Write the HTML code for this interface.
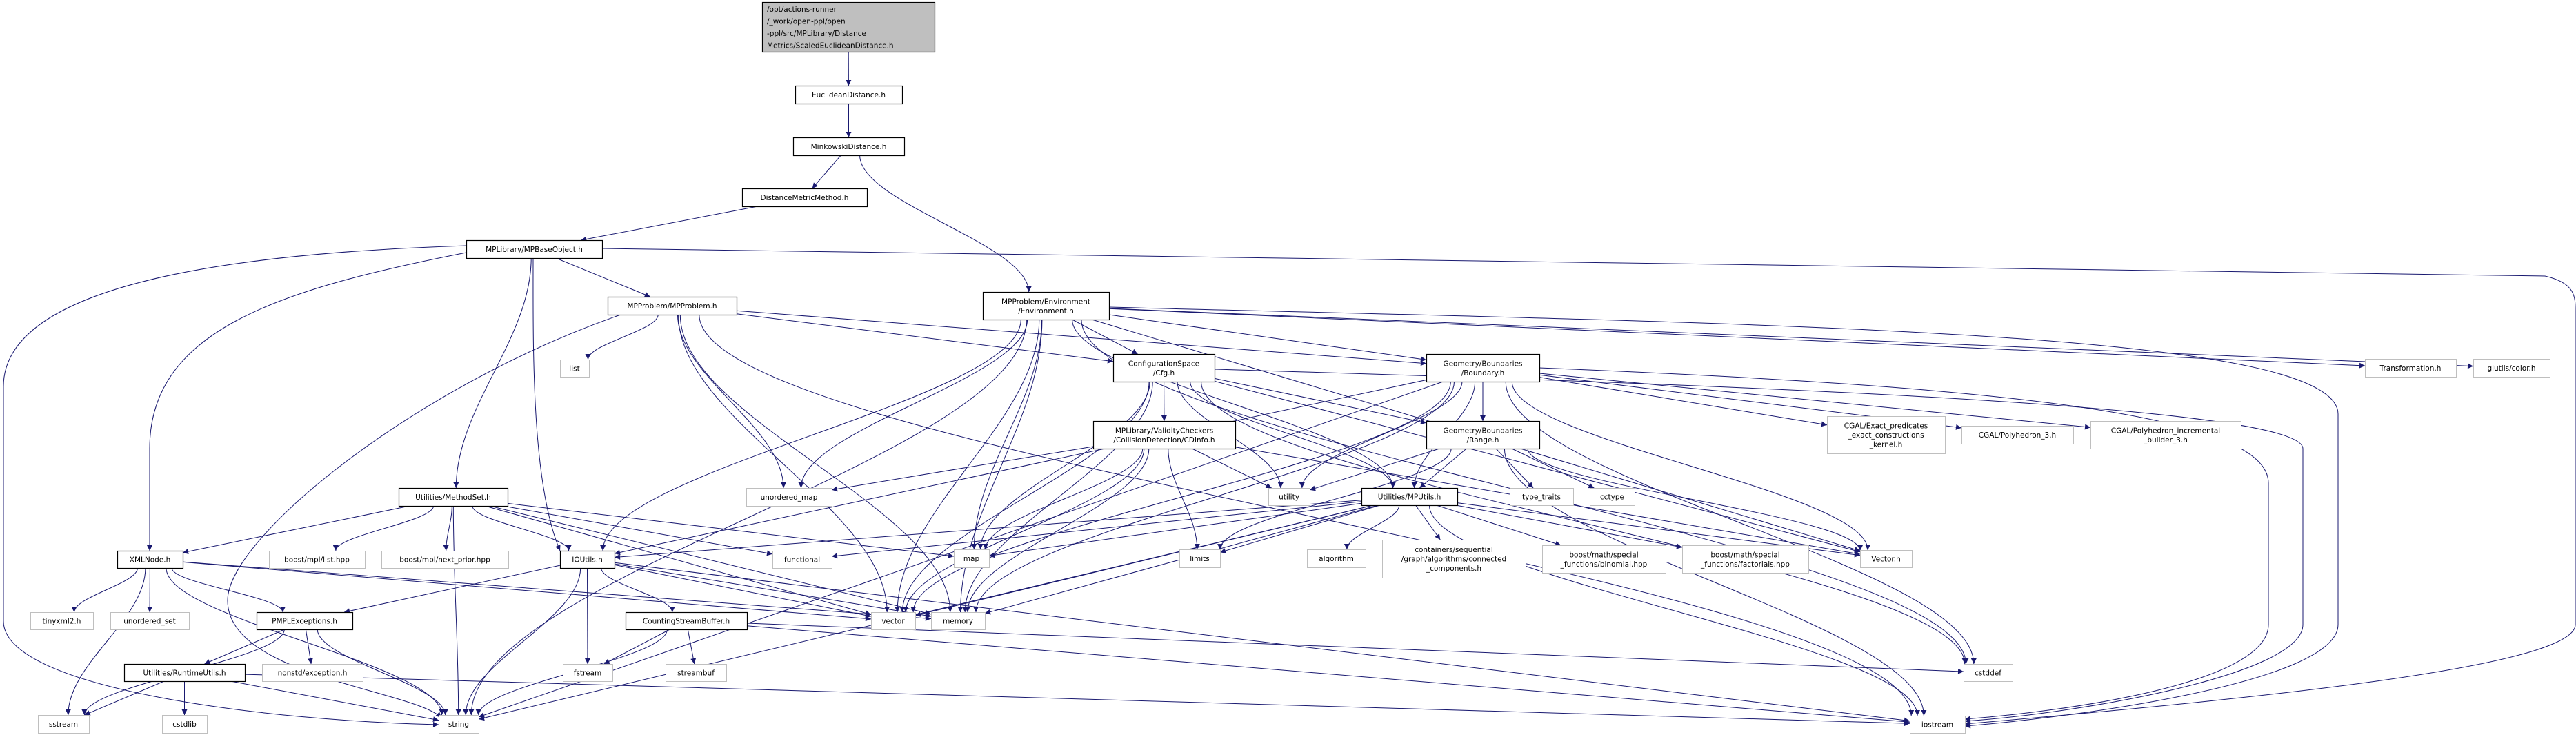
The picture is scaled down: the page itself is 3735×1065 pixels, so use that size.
<!DOCTYPE html>
<html><head><meta charset="utf-8"><style>
html,body{margin:0;padding:0;background:#fff;}
svg{display:block;}
text{font-family:"DejaVu Sans","Liberation Sans",sans-serif;font-size:10.5px;fill:#000;}
</style></head><body>
<svg id="g" width="3735" height="1065" viewBox="0 0 3735 1065" xmlns="http://www.w3.org/2000/svg">
<defs><marker id="ah" viewBox="0 0 10 10" refX="10" refY="5" markerWidth="10" markerHeight="8" markerUnits="userSpaceOnUse" orient="auto"><path d="M0,0 L10,5 L0,10 z" fill="#191970"/></marker></defs>
<g id="edges" fill="none" stroke="#191970" stroke-width="1"></g>
<g id="nodes"></g>
</svg>
<script>
var N={
top:[1105,3,1355,75,["/opt/actions-runner","/_work/open-ppl/open","-ppl/src/MPLibrary/Distance","Metrics/ScaledEuclideanDistance.h"],2],
eu:[1153,124,1308,150,["EuclideanDistance.h"],1],
mk:[1150,199,1311,225,["MinkowskiDistance.h"],1],
dmm:[1076,273,1257,299,["DistanceMetricMethod.h"],1],
mpb:[676,348,873,374,["MPLibrary/MPBaseObject.h"],1],
mpp:[881,430,1068,456,["MPProblem/MPProblem.h"],1],
env:[1425,423,1608,463,["MPProblem/Environment","/Environment.h"],1],
cfg:[1614,513,1761,553,["ConfigurationSpace","/Cfg.h"],1],
bnd:[2068,513,2232,553,["Geometry/Boundaries","/Boundary.h"],1],
cdi:[1585,610,1791,650,["MPLibrary/ValidityCheckers","/CollisionDetection/CDInfo.h"],1],
rng:[2068,610,2232,650,["Geometry/Boundaries","/Range.h"],1],
utility:[1839,707,1899,732,["utility"],0],
mpu:[1974,707,2113,732,["Utilities/MPUtils.h"],1],
tt:[2189,707,2281,732,["type_traits"],0],
cct:[2305,707,2370,732,["cctype"],0],
list:[812,521,854,546,["list"],0],
umap:[1082,707,1206,733,["unordered_map"],0],
ms:[578,707,736,733,["Utilities/MethodSet.h"],1],
xml:[170,798,265,823,["XMLNode.h"],1],
bl:[390,798,529,823,["boost/mpl/list.hpp"],0],
bnp:[553,798,737,823,["boost/mpl/next_prior.hpp"],0],
iou:[812,798,891,823,["IOUtils.h"],1],
func:[1120,798,1206,823,["functional"],0],
map:[1383,796,1434,822,["map"],0],
limits:[1710,796,1769,822,["limits"],0],
algo:[1895,796,1980,822,["algorithm"],0],
cc:[2004,782,2212,837,["containers/sequential","/graph/algorithms/connected","_components.h"],0],
bin:[2236,790,2415,830,["boost/math/special","_functions/binomial.hpp"],0],
fac:[2439,790,2622,830,["boost/math/special","_functions/factorials.hpp"],0],
vech:[2697,797,2772,822,["Vector.h"],0],
cg1:[2649,603,2820,657,["CGAL/Exact_predicates","_exact_constructions","_kernel.h"],0],
cg2:[2844,617,3006,643,["CGAL/Polyhedron_3.h"],0],
cg3:[3031,610,3249,650,["CGAL/Polyhedron_incremental","_builder_3.h"],0],
trans:[3429,520,3561,546,["Transformation.h"],0],
glu:[3586,520,3697,546,["glutils/color.h"],0],
tiny:[44,887,135,912,["tinyxml2.h"],0],
uset:[160,887,274,912,["unordered_set"],0],
pmpl:[372,887,511,912,["PMPLExceptions.h"],1],
csb:[907,887,1083,912,["CountingStreamBuffer.h"],1],
vector:[1263,887,1327,912,["vector"],0],
memory:[1350,887,1428,912,["memory"],0],
rt:[180,962,355,987,["Utilities/RuntimeUtils.h"],1],
nonstd:[380,962,526,987,["nonstd/exception.h"],0],
fstream:[816,962,888,987,["fstream"],0],
sbuf:[965,962,1053,987,["streambuf"],0],
cstddef:[2847,962,2918,987,["cstddef"],0],
sstream:[55,1036,129,1062,["sstream"],0],
cstdlib:[235,1036,300,1062,["cstdlib"],0],
string:[636,1036,694,1062,["string"],0],
iostream:[2769,1037,2849,1062,["iostream"],0]
};
var E=[
["top","eu"],["eu","mk"],["mk","dmm"],["mk","env"],["dmm","mpb"],
["mpb","string","M676,356 C300,368 5,420 5,560 L5,900 C5,1000 400,1045 636,1050"],
["mpb","xml","M676,366 C400,420 217,480 217,650 L217,798"],
["mpb","ms"],["mpb","iou","M773,374 C773,500 770,700 812,798"],["mpb","mpp"],
["mpb","iostream","M873,360 L3690,400 C3734,410 3734,430 3734,450 L3734,905 C3734,965 3300,1010 2849,1049"],
["mpp","string","M900,456 C600,560 330,780 330,870 C330,980 600,1000 640,1040"],["mpp","list"],["mpp","umap"],["mpp","vector"],["mpp","memory"],["mpp","cfg"],["mpp","bnd"],["mpp","iostream"],
["env","cfg"],["env","bnd"],["env","mpu"],["env","map"],["env","memory"],["env","vector"],["env","umap"],["env","string"],["env","iou"],
["env","trans"],["env","glu"],["env","vech"],["env","cstddef"],
["env","iostream","M1608,445 C2600,470 3390,480 3390,600 L3390,905 C3390,990 3000,1040 2849,1052"],
["cfg","cdi"],["cfg","rng"],["cfg","mpu"],["cfg","map"],["cfg","vector"],["cfg","memory"],["cfg","vech"],["cfg","cstddef"],["cfg","utility"],
["cfg","iostream","M1761,535 C2600,560 3339,590 3339,650 L3339,905 C3339,980 3000,1035 2849,1045"],
["cdi","map"],["cdi","memory"],["cdi","vector"],["cdi","limits"],["cdi","utility"],["cdi","umap"],["cdi","vech"],
["bnd","rng"],["bnd","mpu"],["bnd","utility"],["bnd","cg1"],["bnd","cg2"],["bnd","cg3"],["bnd","vech"],["bnd","cstddef"],["bnd","iou"],["bnd","memory"],["bnd","string"],["bnd","vector"],
["bnd","iostream","M2232,533 C2900,560 3289,600 3289,700 L3289,905 C3289,990 3000,1030 2849,1042"],
["rng","utility"],["rng","mpu"],["rng","tt"],["rng","cct"],["rng","limits"],["rng","iostream"],["rng","vech"],
["mpu","map"],["mpu","limits"],["mpu","algo"],["mpu","cc"],["mpu","bin"],["mpu","fac"],["mpu","vech"],["mpu","memory"],["mpu","vector"],["mpu","string"],["mpu","iostream"],["mpu","func"],["mpu","iou"],
["ms","xml"],["ms","bl"],["ms","bnp"],["ms","string"],["ms","iou"],["ms","func"],["ms","map"],["ms","memory"],["ms","vector"],
["xml","tiny"],["xml","uset"],["xml","sstream"],["xml","string"],["xml","pmpl"],["xml","vector"],["xml","memory"],
["iou","pmpl"],["iou","csb"],["iou","fstream"],["iou","string"],["iou","vector"],["iou","iostream"],["iou","memory"],
["pmpl","rt"],["pmpl","nonstd"],["pmpl","string"],["pmpl","sstream"],
["rt","sstream"],["rt","cstdlib"],["rt","string"],["rt","iostream"],
["csb","fstream"],["csb","sbuf"],["csb","string"],["csb","iostream"],["csb","cstddef"]
];
var NS="http://www.w3.org/2000/svg";
function el(t,a,p){var e=document.createElementNS(NS,t);for(var k in a)e.setAttribute(k,a[k]);p.appendChild(e);return e;}
function clip(b,cx,cy,dx,dy){var hw=(b[2]-b[0])/2,hh=(b[3]-b[1])/2;var tx=dx?hw/Math.abs(dx):1e9,ty=dy?hh/Math.abs(dy):1e9;var t=Math.min(tx,ty);return [cx+dx*t,cy+dy*t];}
var eg=document.getElementById("edges"),ng=document.getElementById("nodes");
E.forEach(function(e){var a=N[e[0]],b=N[e[1]];var d=e[2];
if(!d){var ax=(a[0]+a[2])/2,ay=(a[1]+a[3])/2,bx=(b[0]+b[2])/2,by=(b[1]+b[3])/2;var dx=bx-ax,dy=by-ay;var p=clip(a,ax,ay,dx,dy),q=clip(b,bx,by,-dx,-dy);
var vy=q[1]-p[1];
if(vy>60&&Math.abs(p[1]-a[3])<1&&Math.abs(q[1]-b[1])<1){var c=vy*0.35;
d="M"+p[0].toFixed(1)+","+p[1].toFixed(1)+" C"+p[0].toFixed(1)+","+(p[1]+c).toFixed(1)+" "+q[0].toFixed(1)+","+(q[1]-c).toFixed(1)+" "+q[0].toFixed(1)+","+q[1].toFixed(1);}
else d="M"+p[0].toFixed(1)+","+p[1].toFixed(1)+" L"+q[0].toFixed(1)+","+q[1].toFixed(1);}
el("path",{d:d,"marker-end":"url(#ah)"},eg);});
for(var k in N){var n=N[k];var w=n[2]-n[0],h=n[3]-n[1];
el("rect",{x:n[0]+0.5,y:n[1]+0.5,width:w,height:h,fill:n[5]==2?"#bfbfbf":"#fff",stroke:n[5]?"#000":"#bfbfbf","stroke-width":n[5]?1.2:1},ng);
var L=n[4],lh=13.5,y0=n[1]+h/2-(L.length-1)*lh/2+4;
L.forEach(function(s,i){var t;if(n[5]==2){t=el("text",{x:n[0]+7,y:y0+i*lh*1.3-6},ng);}else{t=el("text",{x:n[0]+w/2,y:y0+i*lh,"text-anchor":"middle"},ng);}t.textContent=s;});}
</script>
</body></html>
